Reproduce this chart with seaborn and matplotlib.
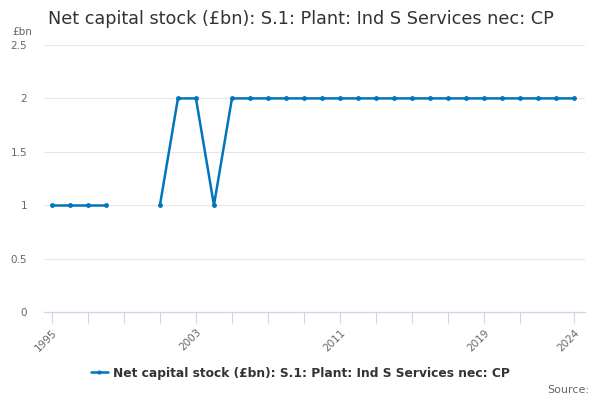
import numpy as np
import pandas as pd
import seaborn as sns
import matplotlib.pyplot as plt
from matplotlib.lines import Line2D

# data
years = list(range(1995, 2025))
values = [1, 1, 1, 1, np.nan, np.nan, 1, 2, 2, 1] + [2] * 20
series_name = 'Net capital stock (£bn): S.1: Plant: Ind S Services nec: CP'
line_col = '#0075bc'

df = pd.DataFrame({'year': years, 'value': values})
# split into segments at the missing years so the gap stays open
df['segment'] = df['value'].isna().cumsum()
df = df.dropna()

sns.set_style('white')
plt.rcParams['font.family'] = ['DejaVu Sans']

fig = plt.figure(figsize=(6, 4), dpi=100)
ax = fig.add_axes([44 / 600, 1 - 312 / 400, (585 - 44) / 600, (312 - 45) / 400])

sns.lineplot(data=df, x='year', y='value', units='segment', estimator=None,
             color=line_col, linewidth=1.8, marker='o', markersize=3.5,
             markeredgewidth=0, ax=ax, legend=False)

ax.set_xlim(1995 - 0.44, 2024 + 0.61)
ax.set_ylim(0, 2.5)
ax.set_yticks([0, 0.5, 1, 1.5, 2, 2.5])
ax.set_yticklabels(['0', '0.5', '1', '1.5', '2', '2.5'], color='#666666', fontsize=7.5)
ax.yaxis.grid(True, color='#e6e6e6', linewidth=0.8)
ax.set_axisbelow(True)
ax.tick_params(axis='y', left=False, length=0, pad=12)

# ticks every two years plus the last year, labels on a subset
tick_years = list(range(1995, 2022, 2)) + [2024]
ax.set_xticks(tick_years)
ax.set_xticklabels([str(y) if y in (1995, 2003, 2011, 2019, 2024) else '' for y in tick_years],
                   rotation=45, ha='right', rotation_mode='anchor',
                   color='#666666', fontsize=7.5)
ax.tick_params(axis='x', bottom=True, direction='out', length=8, width=0.8,
               color='#ccd6eb', pad=3)

for s in ['top', 'right', 'left']:
    ax.spines[s].set_visible(False)
ax.spines['bottom'].set_color('#ccd6eb')
ax.spines['bottom'].set_linewidth(0.9)
ax.set_xlabel('')
ax.set_ylabel('')

fig.text(48 / 600, 1 - 19 / 400, 'Net capital stock (£bn): S.1: Plant: Ind S Services nec: CP',
         fontsize=12.7, color='#333333', va='center', ha='left')
fig.text(22 / 600, 1 - 32 / 400, '£bn', fontsize=7.5, color='#666666', va='center', ha='center')

handle = Line2D([], [], color=line_col, linewidth=1.8, marker='o', markersize=3,
                markeredgewidth=0)
fig.legend([handle], [series_name], loc='center', bbox_to_anchor=(0.5, 1 - 373 / 400),
           frameon=False, prop={'weight': 'bold', 'size': 8.8}, handlelength=1.4,
           handletextpad=0.4, labelcolor='#333333')

fig.text(589 / 600, 1 - 390 / 400, 'Source:', fontsize=8, color='#666666', ha='right', va='center')

fig.savefig('out.png', dpi=100)
